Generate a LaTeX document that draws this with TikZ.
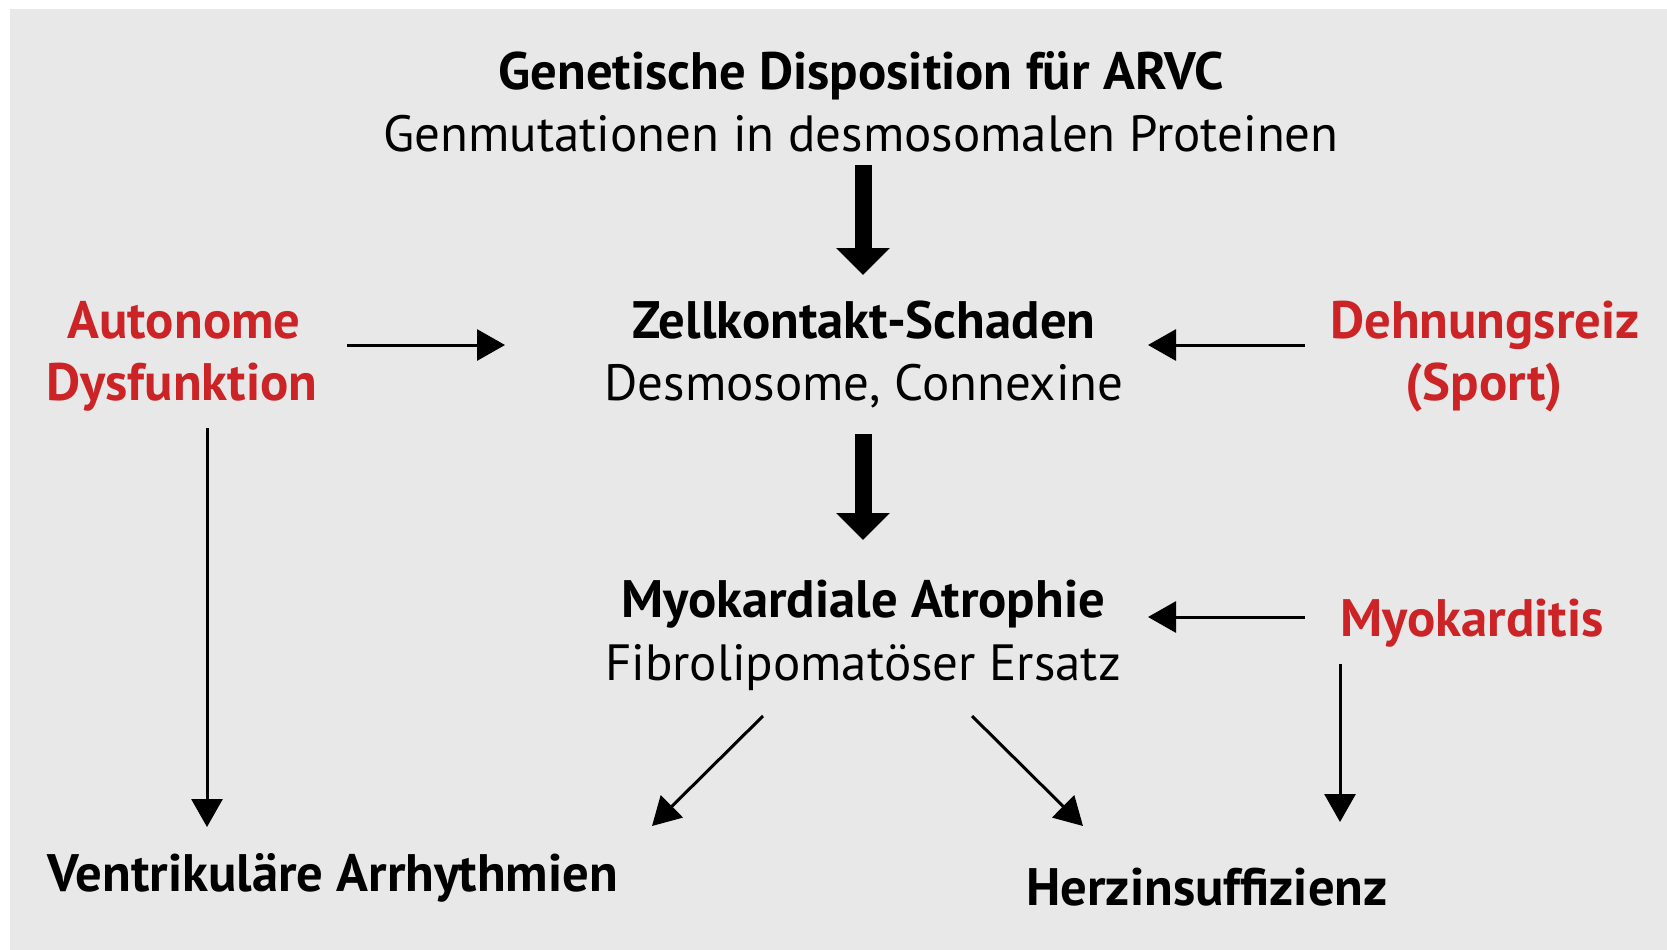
\documentclass[tikz,border=0pt]{standalone}
\usepackage{fontspec}
\setmainfont{PT Sans}
\usetikzlibrary{arrows.meta, calc, positioning}
\definecolor{panelgrey}{RGB}{232,232,232}
\definecolor{causered}{RGB}{204,36,38}

\begin{document}
\begin{tikzpicture}
			[x=0.02cm, y=-0.02cm,
			txt/.style={anchor=base, inner sep=0pt, font=\fontsize{29}{34}\selectfont},
			head/.style={txt, font=\fontsize{30}{35}\selectfont\bfseries},
			cause/.style={head, text=causered},
			bigarrow/.style={-{Triangle[width=1.04cm, length=0.54cm]}, line width=0.34cm},
			smallarrow/.style={-{Triangle[width=0.62cm, length=0.56cm]}, line width=0.06cm}]
			\useasboundingbox (0,0) rectangle (1667,950);
			\fill[panelgrey] (10,9) rectangle (1667,950);
			
			% middle column
			\node[head] (gen) at (861,89) {Genetische Disposition für ARVC};
			\node[txt] (mut) at (861,151) {Genmutationen in desmosomalen Proteinen};
			\node[head] (zk) at (864,338) {Zellkontakt-Schaden};
			\node[txt] (desmo) at (864,400) {Desmosome, Connexine};
			\node[head] (atro) at (863,617) {Myokardiale Atrophie};
			\node[txt] (fibro) at (863,680) {Fibrolipomatöser Ersatz};
			
			% causes
			\node[cause] (auto) at (184,338) {Autonome};
			\node[cause] (dys) at (182,400) {Dysfunktion};
			\node[cause] (dehn) at (1485,338) {Dehnungsreiz};
			\node[cause] (sport) at (1484,400) {(Sport)};
			\node[cause] (myo) at (1472,636) {Myokarditis};
			
			% outcomes
			\node[head] (vent) at (333,891) {Ventrikuläre Arrhythmien};
			\node[head] (herz) at (1207,905) {Herzinsuffizienz};
			
			\draw[bigarrow] ($(mut.base)+(2,14)$) -- ($(zk.base)+(-1,-63)$);
			\draw[bigarrow] ($(desmo.base)+(-1,34)$) -- ($(atro.base)+(0,-77)$);
			
			\draw[smallarrow] ($(auto.base)+(163,7)$) -- ($(zk.base)+(-359,7)$);
			\draw[smallarrow] ($(dehn.base)+(-180,7)$) -- ($(zk.base)+(284,7)$);
			\draw[smallarrow] ($(myo.base)+(-167,-19)$) -- ($(atro.base)+(285,0)$);
			\draw[smallarrow] ($(myo.base)+(-132,28)$) -- ($(herz.base)+(133,-83)$);
			\draw[smallarrow] ($(dys.base)+(25,28)$) -- ($(vent.base)+(-126,-64)$);
			\draw[smallarrow] ($(fibro.base)+(-100,36)$) -- ($(vent.base)+(319,-65)$);
			\draw[smallarrow] ($(fibro.base)+(109,36)$) -- ($(herz.base)+(-124,-79)$);
			\end{tikzpicture}
\end{document}
